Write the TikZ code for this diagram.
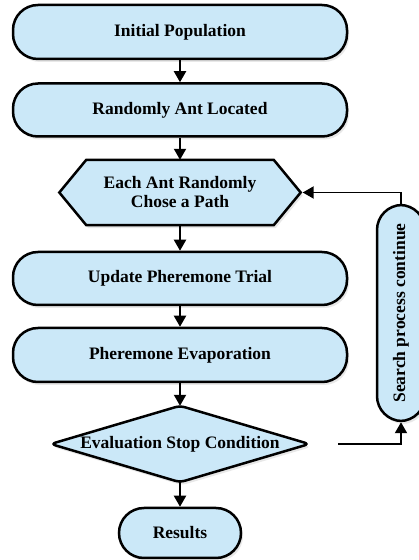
\documentclass[tikz,border=0pt]{standalone}
\usepackage{fontspec}
\setmainfont{Liberation Serif}
\usetikzlibrary{arrows.meta,calc,shadows,backgrounds}
\definecolor{boxfill}{RGB}{203,232,248}
\tikzset{
  x=1pt, y=1pt,
  boxline/.style={draw=black, line width=2.5pt, fill=boxfill,
    drop shadow={opacity=0.18, shadow xshift=2pt, shadow yshift=-3pt}},
  pill/.style={boxline, rectangle, rounded corners=25pt, inner sep=0pt,
    font=\fontsize{17.5}{19}\selectfont\bfseries, align=center},
  label/.style={inner sep=0pt, font=\fontsize{17.5}{19}\selectfont\bfseries, align=center},
  flow/.style={line width=1.9pt, -{Triangle[length=11pt,width=12pt]}},
}
\begin{document}
\begin{tikzpicture}
\useasboundingbox (0,0) rectangle (419,560);

% main column
\node[pill, minimum width=334, minimum height=54] (init) at (180,528) {Initial Population};
\node[pill, minimum width=334, minimum height=53] (rand) at (180,450) {Randomly Ant Located};
\node[label, minimum width=241, minimum height=65] (hex) at (180,367.5) {Each Ant Randomly\\Chose a Path};
\node[pill, minimum width=334, minimum height=53] (upd) at (180,281.5) {Update Pheremone Trial};
\node[pill, minimum width=334, minimum height=54] (evap) at (180,205) {Pheremone Evaporation};
\node[label, minimum width=258, minimum height=76] (diam) at (180,116) {Evaluation Stop Condition};
\node[pill, minimum width=122, minimum height=50] (res) at (180,27) {Results};

% side loop box
\node[pill, minimum width=216, minimum height=48, rotate=90] (loop) at (401,247) {Search process continue};

% outlines of the hexagon and the decision diamond
\begin{scope}[on background layer]
  \path[boxline] (hex.west) -- ($(hex.north west)+(27,0)$) -- ($(hex.north east)+(-27,0)$)
     -- (hex.east) -- ($(hex.south east)+(-27,0)$) -- ($(hex.south west)+(27,0)$) -- cycle;
  \path[boxline, rounded corners=5pt] (diam.west) -- (diam.north) -- (diam.east) -- (diam.south) -- cycle;
\end{scope}

% connectors
\draw[flow] (init.south) -- (rand.north);
\draw[flow] (rand.south) -- (hex.north);
\draw[flow] (hex.south) -- (upd.north);
\draw[flow] (upd.south) -- (evap.north);
\draw[flow] (evap.south) -- (diam.north);
\draw[flow] (diam.south) -- (res.north);

\coordinate (back) at (338,116);
\draw[flow] (back) -| (loop.west);
\draw[flow] (loop.east) |- ($(hex.east)+(2,0)$);
\end{tikzpicture}
\end{document}
